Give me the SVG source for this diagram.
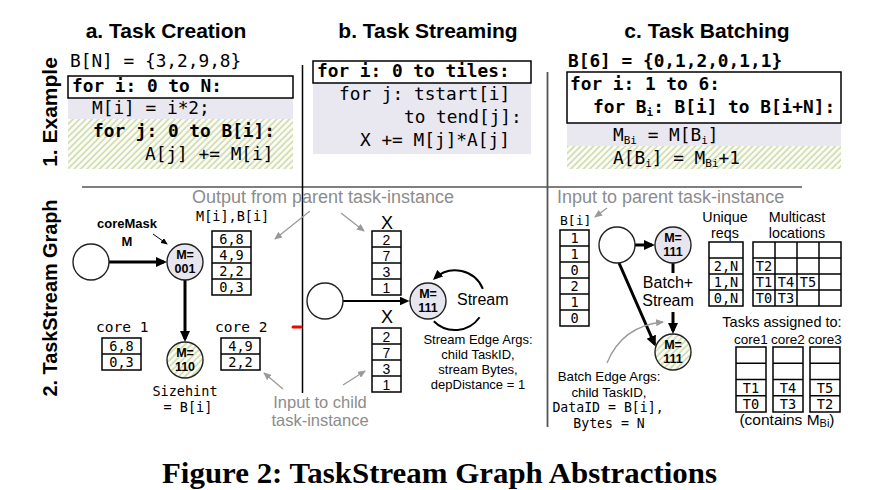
<svg xmlns="http://www.w3.org/2000/svg" width="880" height="490" viewBox="0 0 880 490">
<defs>
<pattern id="hatch" patternUnits="userSpaceOnUse" width="4.5" height="4.5" patternTransform="rotate(45)">
<rect width="4.5" height="4.5" fill="#fbfcf6"/>
<line x1="1" y1="0" x2="1" y2="4.5" stroke="#cbd9a6" stroke-width="1.5"/>
</pattern>
<marker id="hThick" viewBox="0 0 11 10" refX="8" refY="5" markerWidth="11" markerHeight="10" markerUnits="userSpaceOnUse" orient="auto"><path d="M0,0 L11,5 L0,10 z" fill="#000"/></marker>
<marker id="hMid" viewBox="0 0 10 9" refX="7.5" refY="4.5" markerWidth="10" markerHeight="9" markerUnits="userSpaceOnUse" orient="auto"><path d="M0,0 L10,4.5 L0,9 z" fill="#000"/></marker>
<marker id="hThin" viewBox="0 0 7 6" refX="6" refY="3" markerWidth="7" markerHeight="6" markerUnits="userSpaceOnUse" orient="auto"><path d="M0,0 L7,3 L0,6 z" fill="#000"/></marker>
<marker id="hGray" viewBox="0 0 8 7" refX="7" refY="3.5" markerWidth="8" markerHeight="7" markerUnits="userSpaceOnUse" orient="auto"><path d="M0,0 L8,3.5 L0,7 z" fill="#999"/></marker>
</defs>
<style>
.t{font-family:"Liberation Sans",Arial,sans-serif;fill:#000}
.m{font-family:"DejaVu Sans Mono","Liberation Mono",monospace;fill:#000}
.code{font-size:17.8px}
.b{font-weight:bold}
.g{fill:#8c8c8c}
.c{text-anchor:middle}
.box{fill:#fff;stroke:#000;stroke-width:1.5}
.band{fill:#e9e7ef}
.hb{fill:url(#hatch)}
.cell{fill:#fff;stroke:#000;stroke-width:1.5}
.ln{stroke:#000;stroke-width:1.5}
.node{stroke:#222;stroke-width:1.4}
.plain{fill:#fff}
.lav{fill:#e7e5ee}
.nl{font-family:"Liberation Sans",Arial,sans-serif;font-weight:bold;font-size:12.5px;text-anchor:middle}
.tv{font-size:13.6px;text-anchor:middle}
.ann{fill:none;stroke:#999;stroke-width:1.3}
.thick{fill:none;stroke:#000;stroke-width:3}
.mid{fill:none;stroke:#000;stroke-width:2}
</style>

<!-- titles -->
<g id="titles" class="t b" font-size="21">
<text x="166" y="38" class="c">a. Task Creation</text>
<text x="428" y="38" class="c">b. Task Streaming</text>
<text x="707" y="38" class="c">c. Task Batching</text>
<text transform="translate(57,112) rotate(-90)" class="c">1. Example</text>
<text transform="translate(57,298) rotate(-90)" class="c" textLength="197" lengthAdjust="spacingAndGlyphs">2. TaskStream Graph</text>
</g>

<!-- dividers -->
<g id="dividers">
<line x1="82" y1="187" x2="802" y2="187" stroke="#7f7f7f" stroke-width="2"/>
<line x1="302.5" y1="65" x2="302.5" y2="393" stroke="#000" stroke-width="1.5"/>
<line x1="547.5" y1="72" x2="547.5" y2="427" stroke="#555" stroke-width="1.8"/>
<line x1="293" y1="327" x2="301" y2="327" stroke="#f00" stroke-width="3" stroke-linecap="round"/>
</g>

<!-- code a -->
<g id="code-a" class="m code">
<text x="70" y="67">B[N] = {3,2,9,8}</text>
<rect class="band" x="68" y="98" width="225" height="21"/>
<rect class="hb" x="68" y="119" width="225" height="50"/>
<rect class="box" x="68" y="76" width="225" height="22"/>
<text x="72" y="92" class="b">for i: 0 to N:</text>
<text x="92" y="114">M[i] = i*2;</text>
<text x="93" y="137" class="b">for j: 0 to B[i]:</text>
<text x="145" y="160">A[j] += M[i]</text>
</g>

<!-- code b -->
<g id="code-b" class="m code">
<rect class="band" x="313" y="83" width="218" height="71"/>
<rect class="box" x="313" y="61" width="218" height="22"/>
<text x="317" y="77" class="b">for i: 0 to tiles:</text>
<text x="339" y="100">for j: tstart[i]</text>
<text x="404" y="123">to tend[j]:</text>
<text x="360" y="146">X += M[j]*A[j]</text>
</g>

<!-- code c -->
<g id="code-c" class="m code">
<text x="568" y="67" class="b">B[6] = {0,1,2,0,1,1}</text>
<rect class="band" x="567" y="123" width="274" height="23"/>
<rect class="hb" x="567" y="146" width="274" height="23"/>
<rect class="box" x="567" y="72" width="274" height="51"/>
<text x="570" y="90" class="b">for i: 1 to 6:</text>
<text x="593" y="113" class="b">for B<tspan font-size="11" dy="3">i</tspan><tspan dy="-3">: B[i] to B[i+N]:</tspan></text>
<text x="613" y="141">M<tspan font-size="11" dy="3">Bi</tspan><tspan dy="-3"> = M[B</tspan><tspan font-size="11" dy="3">i</tspan><tspan dy="-3">]</tspan></text>
<text x="613" y="164">A[B<tspan font-size="11" dy="3">i</tspan><tspan dy="-3">] = M</tspan><tspan font-size="11" dy="3">Bi</tspan><tspan dy="-3">+1</tspan></text>
</g>

<!-- annotations -->
<g id="annotations">
<text x="192" y="203" class="t g" font-size="18">Output from parent task-instance</text>
<text x="320" y="407.5" class="t g c" font-size="16.5">Input to child</text>
<text x="320" y="426" class="t g c" font-size="16.5">task-instance</text>
<text x="557" y="203" class="t g" font-size="18">Input to parent task-instance</text>
</g>

<!-- connectors -->
<g id="connectors">
<line class="thick" x1="109" y1="262" x2="164" y2="262" marker-end="url(#hThick)"/>
<line class="thick" x1="185" y1="280" x2="185" y2="339" marker-end="url(#hThick)"/>
<line x1="153" y1="234" x2="167" y2="244" stroke="#000" stroke-width="1" marker-end="url(#hThin)"/>
<line class="mid" x1="343" y1="301" x2="407" y2="301" marker-end="url(#hMid)"/>
<path class="mid" stroke-width="2.6" d="M482.8,288.8 A30,30 0 0 0 434.8,278.2" marker-end="url(#hMid)"/>
<path class="mid" stroke-width="2.6" d="M433.8,321.2 A30,30 0 0 0 479.6,317.2"/>
<line class="thick" x1="635" y1="245" x2="652" y2="245" marker-end="url(#hThick)"/>
<line class="thick" x1="673" y1="263" x2="673" y2="273"/>
<line class="thick" x1="673" y1="312" x2="673" y2="331" marker-end="url(#hThick)"/>
<line class="thick" x1="619" y1="263" x2="654.5" y2="344" marker-end="url(#hThick)"/>
<line class="ann" x1="310" y1="211" x2="275" y2="239" marker-end="url(#hGray)"/>
<line class="ann" x1="341" y1="213" x2="364" y2="231" marker-end="url(#hGray)"/>
<line class="ann" x1="283" y1="389" x2="264" y2="373" marker-end="url(#hGray)"/>
<line class="ann" x1="343" y1="385" x2="365" y2="371" marker-end="url(#hGray)"/>
<line class="ann" x1="607" y1="208" x2="595" y2="217" marker-end="url(#hGray)"/>
<path class="ann" d="M607,363 Q622,326 663,322" marker-end="url(#hGray)"/>
</g>

<!-- section a graph -->
<g id="node-a-src"><circle class="node plain" cx="91" cy="262" r="18"/></g>
<g id="label-coremask" class="t b c" font-size="13">
<text x="127" y="228">coreMask</text>
<text x="127" y="246">M</text>
</g>
<g id="node-a-001">
<circle class="node lav" cx="185" cy="262" r="18"/>
<text class="nl" x="185" y="259">M=</text>
<text class="nl" x="185" y="273">001</text>
</g>
<g id="node-a-110">
<circle class="node hb" cx="185" cy="360" r="18"/>
<text class="nl" x="185" y="357">M=</text>
<text class="nl" x="185" y="371">110</text>
</g>
<g id="table-a-out">
<text x="196" y="221" class="m" font-size="13.5">M[i],B[i]</text>
<rect class="cell" x="212" y="231" width="39" height="64"/>
<line class="ln" x1="212" y1="247" x2="251" y2="247"/>
<line class="ln" x1="212" y1="263" x2="251" y2="263"/>
<line class="ln" x1="212" y1="279" x2="251" y2="279"/>
<g class="m tv"><text x="231.5" y="244">6,8</text><text x="231.5" y="260">4,9</text><text x="231.5" y="276">2,2</text><text x="231.5" y="292">0,3</text></g>
</g>
<g id="table-core1">
<text x="96" y="332" class="m" font-size="14.5">core 1</text>
<rect class="cell" x="102" y="338" width="39" height="32"/>
<line class="ln" x1="102" y1="354" x2="141" y2="354"/>
<g class="m tv"><text x="121.5" y="351">6,8</text><text x="121.5" y="367">0,3</text></g>
</g>
<g id="table-core2">
<text x="215" y="332" class="m" font-size="14.5">core 2</text>
<rect class="cell" x="221" y="338" width="39" height="32"/>
<line class="ln" x1="221" y1="354" x2="260" y2="354"/>
<g class="m tv"><text x="240.5" y="351">4,9</text><text x="240.5" y="367">2,2</text></g>
</g>
<g id="label-sizehint" class="m c" font-size="13.5">
<text x="185" y="396">Sizehint</text>
<text x="188" y="412">= B[i]</text>
</g>

<!-- section b graph -->
<g id="node-b-src"><circle class="node plain" cx="325" cy="301" r="18"/></g>
<g id="node-b-111">
<circle class="node lav" cx="428" cy="301" r="18"/>
<text class="nl" x="428" y="298">M=</text>
<text class="nl" x="428" y="312">111</text>
</g>
<g id="table-b-in">
<text x="387" y="229" class="t c" font-size="18">X</text>
<rect class="cell" x="372" y="231" width="29" height="64"/>
<line class="ln" x1="372" y1="247" x2="401" y2="247"/>
<line class="ln" x1="372" y1="263" x2="401" y2="263"/>
<line class="ln" x1="372" y1="279" x2="401" y2="279"/>
<g class="t c" font-size="14"><text x="386.5" y="244.5">2</text><text x="386.5" y="260.5">7</text><text x="386.5" y="276.5">3</text><text x="386.5" y="292.5">1</text></g>
</g>
<g id="table-b-out">
<text x="387" y="323" class="t c" font-size="18">X</text>
<rect class="cell" x="372" y="328" width="29" height="64"/>
<line class="ln" x1="372" y1="344" x2="401" y2="344"/>
<line class="ln" x1="372" y1="360" x2="401" y2="360"/>
<line class="ln" x1="372" y1="376" x2="401" y2="376"/>
<g class="t c" font-size="14"><text x="386.5" y="341.5">2</text><text x="386.5" y="357.5">7</text><text x="386.5" y="373.5">3</text><text x="386.5" y="389.5">1</text></g>
</g>
<g id="label-stream" class="t">
<text x="457" y="305" font-size="16">Stream</text>
<g class="c" font-size="13">
<text x="478" y="344">Stream Edge Args:</text>
<text x="478" y="359">child TaskID,</text>
<text x="478" y="374">stream Bytes,</text>
<text x="478" y="389">depDistance = 1</text>
</g>
</g>

<!-- section c graph -->
<g id="table-c-in">
<text x="560" y="225" class="m" font-size="13">B[i]</text>
<rect class="cell" x="560" y="230" width="29" height="96"/>
<line class="ln" x1="560" y1="246" x2="589" y2="246"/>
<line class="ln" x1="560" y1="262" x2="589" y2="262"/>
<line class="ln" x1="560" y1="278" x2="589" y2="278"/>
<line class="ln" x1="560" y1="294" x2="589" y2="294"/>
<line class="ln" x1="560" y1="310" x2="589" y2="310"/>
<g class="m tv"><text x="574.5" y="243">1</text><text x="574.5" y="259">1</text><text x="574.5" y="275">0</text><text x="574.5" y="291">2</text><text x="574.5" y="307">1</text><text x="574.5" y="323">0</text></g>
</g>
<g id="node-c-src"><circle class="node plain" cx="617" cy="245" r="18"/></g>
<g id="node-c-111a">
<circle class="node lav" cx="673" cy="245" r="18"/>
<text class="nl" x="673" y="242">M=</text>
<text class="nl" x="673" y="256">111</text>
</g>
<g id="node-c-111b">
<circle class="node hb" cx="673" cy="352" r="18"/>
<text class="nl" x="673" y="349">M=</text>
<text class="nl" x="673" y="363">111</text>
</g>
<g id="label-batch" class="t c">
<text x="668" y="288" font-size="16">Batch+</text>
<text x="668" y="306" font-size="16">Stream</text>
<text x="609" y="381" font-size="13.3">Batch Edge Args:</text>
<text x="609" y="396.5" font-size="13.3">child TaskID,</text>
<text x="608" y="412" class="m" font-size="13.2">DataID = B[i],</text>
<text x="609" y="427.5" class="m" font-size="13.2">Bytes = N</text>
</g>
<g id="table-unique">
<text x="725" y="222" class="t c" font-size="14.3">Unique</text>
<text x="725" y="238" class="t c" font-size="14.3">reqs</text>
<rect class="cell" x="709" y="242" width="34" height="64"/>
<line class="ln" x1="709" y1="258" x2="743" y2="258"/>
<line class="ln" x1="709" y1="274" x2="743" y2="274"/>
<line class="ln" x1="709" y1="290" x2="743" y2="290"/>
<g class="m tv"><text x="726" y="271">2,N</text><text x="726" y="287">1,N</text><text x="726" y="303">0,N</text></g>
</g>
<g id="table-multicast">
<text x="797" y="222" class="t c" font-size="14.3">Multicast</text>
<text x="797" y="238" class="t c" font-size="14.3">locations</text>
<rect class="cell" x="753" y="242" width="88" height="64"/>
<line class="ln" x1="775" y1="242" x2="775" y2="306"/>
<line class="ln" x1="797" y1="242" x2="797" y2="306"/>
<line class="ln" x1="819" y1="242" x2="819" y2="306"/>
<line class="ln" x1="753" y1="258" x2="841" y2="258"/>
<line class="ln" x1="753" y1="274" x2="841" y2="274"/>
<line class="ln" x1="753" y1="290" x2="841" y2="290"/>
<g class="m tv"><text x="764" y="271">T2</text><text x="764" y="287">T1</text><text x="786" y="287">T4</text><text x="808" y="287">T5</text><text x="764" y="303">T0</text><text x="786" y="303">T3</text></g>
</g>
<g id="table-assigned">
<text x="782" y="327" class="t c" font-size="14.5">Tasks assigned to:</text>
<g class="t c" font-size="13.5"><text x="751" y="344">core1</text><text x="788" y="344">core2</text><text x="825" y="344">core3</text></g>
<rect class="cell" x="736" y="347" width="30" height="65"/>
<rect class="cell" x="773" y="347" width="30" height="65"/>
<rect class="cell" x="810" y="347" width="30" height="65"/>
<g class="ln">
<line x1="736" y1="363.25" x2="766" y2="363.25"/><line x1="736" y1="379.5" x2="766" y2="379.5"/><line x1="736" y1="395.75" x2="766" y2="395.75"/>
<line x1="773" y1="363.25" x2="803" y2="363.25"/><line x1="773" y1="379.5" x2="803" y2="379.5"/><line x1="773" y1="395.75" x2="803" y2="395.75"/>
<line x1="810" y1="363.25" x2="840" y2="363.25"/><line x1="810" y1="379.5" x2="840" y2="379.5"/><line x1="810" y1="395.75" x2="840" y2="395.75"/>
</g>
<g class="m tv"><text x="751" y="392.5">T1</text><text x="788" y="392.5">T4</text><text x="825" y="392.5">T5</text><text x="751" y="409">T0</text><text x="788" y="409">T3</text><text x="825" y="409">T2</text></g>
<text x="787" y="425" class="t c" font-size="15.5">(contains M<tspan font-size="11" dy="2">Bi</tspan><tspan dy="-2">)</tspan></text>
</g>

<!-- caption -->
<g id="caption">
<text x="439.5" y="483" text-anchor="middle" font-family="'Liberation Serif','Times New Roman',serif" font-weight="bold" font-size="30" textLength="555" lengthAdjust="spacingAndGlyphs">Figure 2: TaskStream Graph Abstractions</text>
</g>
</svg>
